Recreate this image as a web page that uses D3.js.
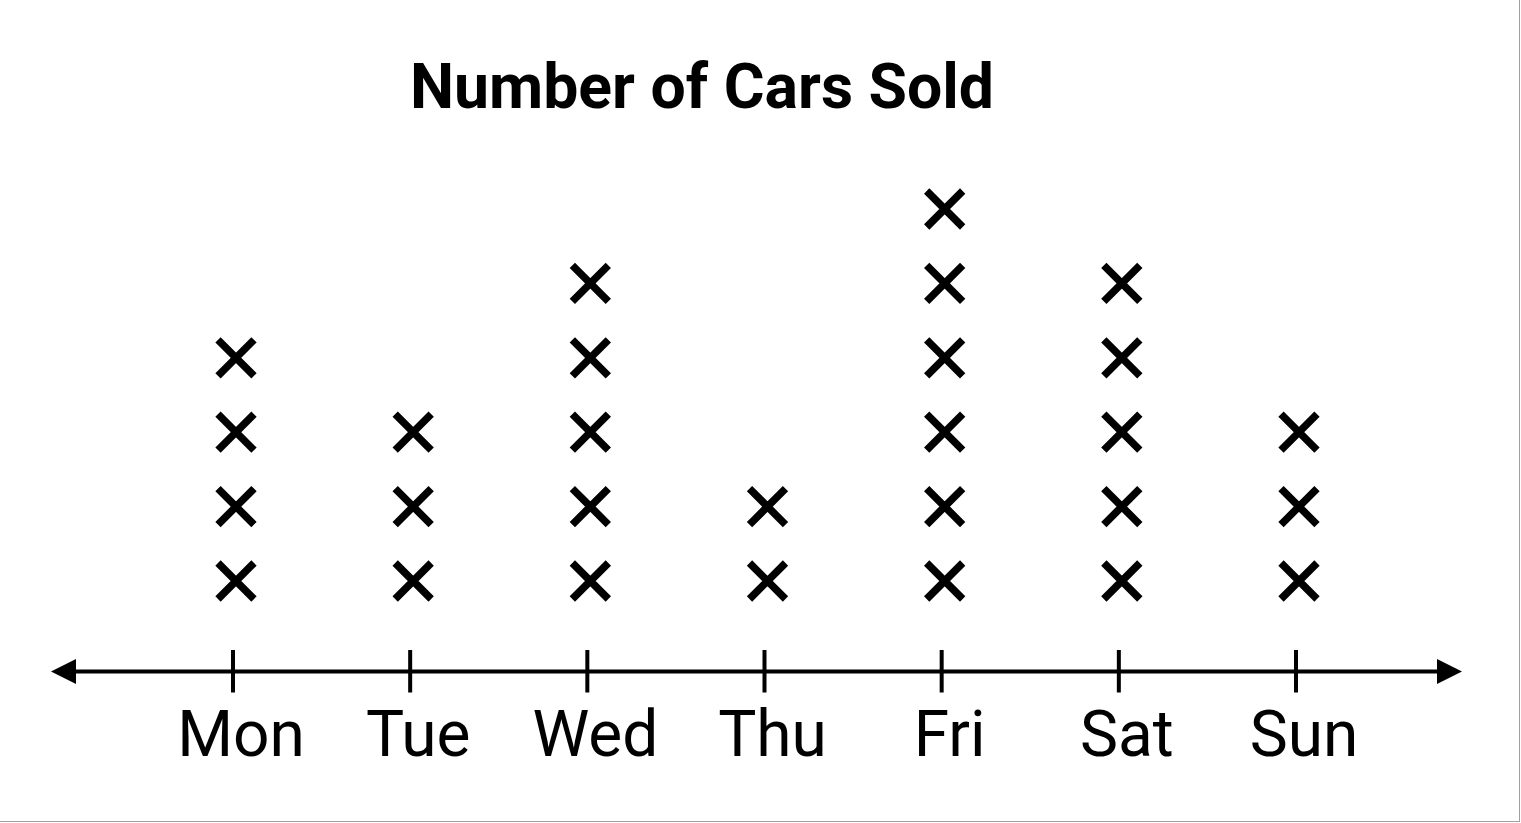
<!DOCTYPE html>
<html>
<head>
<meta charset="utf-8">
<script src="https://cdn.jsdelivr.net/npm/d3@7"></script>
<style>
  html, body { margin: 0; padding: 0; background: #fff; }
  svg { display: block; }
</style>
</head>
<body>
<svg id="chart" width="1521" height="823"></svg>
<script>
// ---- data ----
const title = "Number of Cars Sold";
const days = ["Mon", "Tue", "Wed", "Thu", "Fri", "Sat", "Sun"];
const carsSold = [4, 3, 5, 2, 6, 5, 3];

// ---- layout ----
const W = 1521, H = 823;
const axisY = 671.5;
const svg = d3.select("#chart");

svg.append("rect").attr("x", 0).attr("y", 0).attr("width", W).attr("height", H).attr("fill", "#fff");
// light frame on right / bottom edges
svg.append("line").attr("x1", W - 1.5).attr("x2", W - 1.5).attr("y1", 0).attr("y2", H - 1)
  .attr("stroke", "#a0a0a0").attr("stroke-width", 1);
svg.append("line").attr("x1", 0).attr("x2", W - 1).attr("y1", H - 1.5).attr("y2", H - 1.5)
  .attr("stroke", "#a0a0a0").attr("stroke-width", 1);

const x = d3.scalePoint().domain(days).range([233, 1296]);
const y = d3.scaleLinear().domain([1, 6]).range([581, 209]);

// title
svg.append("text")
  .attr("x", 702).attr("y", 108)
  .attr("text-anchor", "middle")
  .attr("font-family", "Roboto, 'Noto Sans', sans-serif")
  .attr("font-weight", 700)
  .attr("font-size", 62.5)
  .attr("fill", "#000")
  .text(title);

// axis line with arrows
svg.append("line")
  .attr("x1", 70).attr("x2", 1442)
  .attr("y1", axisY).attr("y2", axisY)
  .attr("stroke", "#000").attr("stroke-width", 4);
svg.append("path")
  .attr("d", `M51,${axisY} L76,${axisY - 12.5} L76,${axisY + 12.5} Z`)
  .attr("fill", "#000");
svg.append("path")
  .attr("d", `M1462,${axisY} L1437,${axisY - 12.5} L1437,${axisY + 12.5} Z`)
  .attr("fill", "#000");

// ticks
svg.selectAll("line.tick").data(days).join("line")
  .attr("class", "tick")
  .attr("x1", d => x(d)).attr("x2", d => x(d))
  .attr("y1", axisY - 21.5).attr("y2", axisY + 21)
  .attr("stroke", "#000").attr("stroke-width", 4);

// labels
svg.selectAll("text.lbl").data(days).join("text")
  .attr("class", "lbl")
  .attr("x", d => x(d) + 8).attr("y", 756)
  .attr("text-anchor", "middle")
  .attr("font-family", "Roboto, 'Noto Sans', sans-serif")
  .attr("font-size", 64)
  .attr("fill", "#000")
  .text(d => d);

// X marks
const marks = [];
days.forEach((d, i) => { for (let k = 1; k <= carsSold[i]; k++) marks.push({ day: d, level: k }); });
const r = 18;
const g = svg.selectAll("g.mark").data(marks).join("g")
  .attr("class", "mark")
  .attr("transform", d => `translate(${x(d.day) + 3},${y(d.level)})`);
g.append("path")
  .attr("d", `M${-r},${-r} L${r},${r} M${-r},${r} L${r},${-r}`)
  .attr("stroke", "#000").attr("stroke-width", 7.5).attr("fill", "none");
</script>
</body>
</html>
